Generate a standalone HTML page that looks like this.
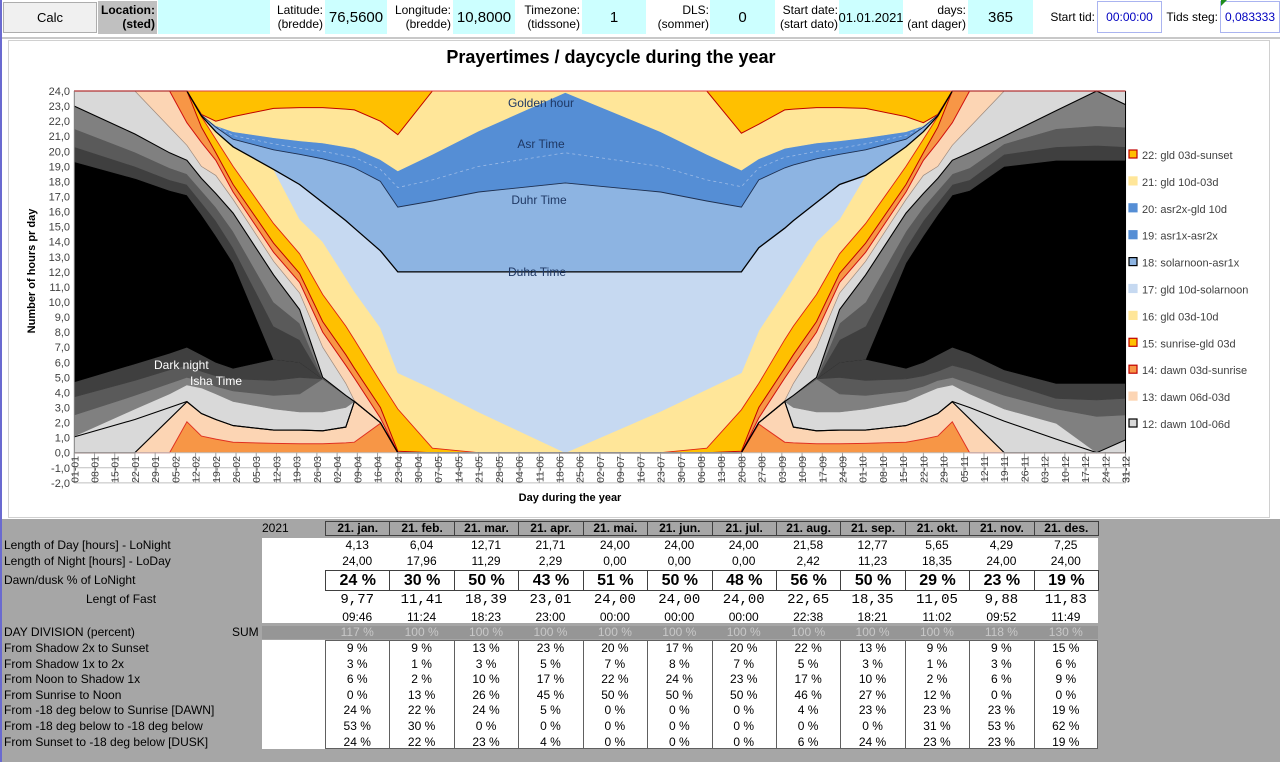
<!DOCTYPE html>
<html><head><meta charset="utf-8">
<style>
body{margin:0;width:1280px;height:762px;position:relative;overflow:hidden;background:#fff;font-family:"Liberation Sans",Arial,sans-serif;font-size:12px;color:#000}
.a{position:absolute}
.lbl{position:absolute;text-align:right;line-height:14px;font-size:12px}
.cy{position:absolute;background:#ccffff;font-size:15px;display:flex;align-items:center;justify-content:center}
.num{position:absolute;text-align:center;font-size:12px}
.hd{position:absolute;top:521px;height:15px;border:1px solid #404040;box-sizing:border-box;text-align:center;font-weight:bold;font-size:12px;line-height:14px}
.rl{position:absolute;left:4px;font-size:12px;line-height:14px}
</style></head><body>
<div class="a" style="left:0;top:0;width:2px;height:762px;background:#6a6ad0"></div>
<!-- header -->
<div class="a" style="left:3px;top:2px;width:94px;height:31px;background:#f0f0f0;border:1px solid #adadad;box-sizing:border-box;text-align:center;line-height:29px;font-size:13px">Calc</div>
<div class="lbl" style="left:98px;top:1px;width:59px;height:33px;background:#c0c0c0;font-weight:bold;padding-top:2px;box-sizing:border-box;padding-right:2px">Location:<br>(sted)</div>
<div class="cy" style="left:158px;top:0;width:112px;height:34px"></div>
<div class="lbl" style="left:268px;top:3px;width:55px">Latitude:<br>(bredde)</div>
<div class="cy" style="left:325px;top:0;width:62px;height:34px">76,5600</div>
<div class="lbl" style="left:386px;top:3px;width:65px">Longitude:<br>(bredde)</div>
<div class="cy" style="left:453px;top:0;width:62px;height:34px">10,8000</div>
<div class="lbl" style="left:515px;top:3px;width:65px">Timezone:<br>(tidssone)</div>
<div class="cy" style="left:582px;top:0;width:64px;height:34px">1</div>
<div class="lbl" style="left:648px;top:3px;width:61px">DLS:<br>(sommer)</div>
<div class="cy" style="left:710px;top:0;width:65px;height:34px">0</div>
<div class="lbl" style="left:776px;top:3px;width:62px">Start date:<br>(start dato)</div>
<div class="cy" style="left:839px;top:0;width:64px;height:34px;font-size:13px">01.01.2021</div>
<div class="lbl" style="left:903px;top:3px;width:63px">days:<br>(ant dager)</div>
<div class="cy" style="left:968px;top:0;width:65px;height:34px">365</div>
<div class="lbl" style="left:1040px;top:10px;width:55px">Start tid:</div>
<div class="a" style="left:1097px;top:1px;width:65px;height:32px;border:1px solid #aab4f0;box-sizing:border-box;color:#0000c0;text-align:center;line-height:30px;font-size:12px">00:00:00</div>
<div class="lbl" style="left:1160px;top:10px;width:58px">Tids steg:</div>
<div class="a" style="left:1220px;top:1px;width:60px;height:32px;border:1px solid #aab4f0;box-sizing:border-box;color:#0000c0;text-align:center;line-height:30px;font-size:12px">0,083333</div>
<div class="a" style="left:1221px;top:0;width:0;height:0;border-top:6px solid #1e8c1e;border-right:6px solid transparent"></div>
<div class="a" style="left:2px;top:37px;width:1278px;height:2px;background:#c8c8c8"></div>
<!-- chart frame -->
<div class="a" style="left:8px;top:40px;width:1262px;height:478px;border:1px solid #d0d0d0;box-sizing:border-box;background:#fff"></div>
<div class="a" style="left:2px;top:519px;width:1278px;height:243px;background:#a6a6a6"></div>
<svg id="chart" class="a" style="left:0;top:0" width="1280" height="520"></svg>
<div id="table"></div>
<script>
const days=[0,21,33,39,44,49,55,69,78,86,94,97,106,112,124,140,170,203,219,231,237,246,249,257,265,274,288,294,299,304,310,322,340,354,364];
const orLoTop=[0,0,0,2.05,1.1,0.9,0.7,0.62,0.6,0.6,0.65,0.7,1.95,0,0,0,0, 0,0,0,1.9,0.7,0.65,0.6,0.6,0.62,0.7,0.9,1.1,2.05,0,0,0,0,0];
const peLoTop=[0,0,2.25,3.38,2.6,2.2,1.8,1.5,1.5,1.45,1.7,3.4,2.0,0,0,0,0, 0,0,0,2.0,3.4,1.7,1.45,1.5,1.5,1.8,2.2,2.6,3.38,2.25,0,0,0,0];
const lgATop=[1.05,2.2,3.0,3.4,2.6,2.2,1.8,1.5,1.5,1.45,1.7,3.4,2.0,0,0,0,0, 0,0,0,2.0,3.4,1.7,1.45,1.5,1.5,1.8,2.2,2.6,3.4,3.0,2.1,0.9,0,0.85];
const lgBTop=[1.1,2.9,3.9,4.5,4.3,3.9,3.4,2.9,2.7,2.7,3.0,3.4,2.0,0,0,0,0, 0,0,0,2.0,3.4,3.0,2.7,2.7,2.9,3.4,3.9,4.3,4.5,3.9,2.9,1.95,0,0.9];
const grayLoTop=[2.5,3.8,4.6,5.0,4.8,4.4,4.1,3.8,3.9,4.9,3.8,3.4,2.0,0,0,0,0, 0,0,0,2.0,3.4,3.8,4.9,3.9,3.8,4.1,4.4,4.8,5.0,4.6,3.8,2.9,2.4,2.5];
const dgLoTop=[3.7,4.8,5.5,5.8,5.4,5.1,4.9,4.8,5.0,4.9,3.8,3.4,2.0,0,0,0,0, 0,0,0,2.0,3.4,3.8,4.9,5.0,4.8,4.9,5.1,5.4,5.8,5.5,4.7,3.6,3.5,3.6];
const ddLoTop=[4.7,5.9,6.6,7.0,6.5,6.0,5.6,6.2,6.0,4.9,3.8,3.4,2.0,0,0,0,0, 0,0,0,2.0,3.4,3.8,4.9,6.0,6.2,5.6,6.0,6.5,7.0,6.6,5.5,4.6,4.6,4.6];
const blackTop=[19.3,18.2,17.4,17.1,15.8,14.4,12.6,6.2,6.0,4.9,3.8,3.4,2.0,0,0,0,0, 0,0,0,2.0,3.4,3.8,4.9,6.0,6.2,12.6,14.4,15.8,17.1,17.4,19.0,19.4,19.4,19.4];
const ddHiTop=[20.3,19.0,18.1,17.8,16.6,15.4,13.6,8.4,7.5,4.9,3.8,3.4,2.0,0,0,0,0, 0,0,0,2.0,3.4,3.8,4.9,7.5,8.4,13.6,15.4,16.6,17.8,18.1,19.8,20.3,20.4,20.3];
const dgHiTop=[21.5,19.95,18.9,18.5,17.4,16.3,14.7,10.0,8.6,4.95,3.8,3.4,2.0,0,0,0,0, 0,0,0,2.0,3.4,3.8,4.95,8.6,10.0,14.7,16.3,17.4,18.5,18.9,20.5,21.5,21.7,21.6];
const grayHiTop=[23.0,21.15,19.9,19.4,18.2,17.2,15.9,11.8,9.5,5.0,3.8,3.4,2.0,0,0,0,0, 0,0,0,2.0,3.4,3.8,5.0,9.5,11.8,15.9,17.2,18.2,19.4,19.9,21.0,22.7,24,23.1];
const lgHiTop=[24,24,21.6,20.4,19.0,18.4,16.8,12.7,10.6,7.0,4.6,3.45,2.0,0,0,0,0, 0,0,0,2.0,3.45,4.6,7.0,10.6,12.7,16.8,18.4,19.0,20.4,21.6,24,24,24,24];
const peHiTop=[24,24,24,21.9,20.6,19.4,17.3,13.3,11.3,8.0,5.8,4.95,2.3,0,0,0,0, 0,0,0,2.3,4.95,5.8,8.0,11.3,13.3,17.3,19.4,20.6,21.9,24,24,24,24,24];
const orHiTop=[24,24,24,24,21.6,19.9,17.8,13.9,11.9,8.7,6.5,5.6,3.0,0.1,0,0,0, 0,0,0.1,3.0,5.6,6.5,8.7,11.9,13.9,17.8,19.9,21.6,24,24,24,24,24,24];
const goldHiTop=[24,24,24,24,22.3,20.8,19.0,15.2,13.2,10.5,8.4,7.5,4.7,2.9,0.3,0,0, 0,0.3,2.85,4.6,7.5,8.4,10.5,13.2,15.2,19.0,20.8,22.3,24,24,24,24,24,24];
const lyATop=[24,24,24,24,22.35,21.3,20.3,18.8,15.5,14.0,11.6,10.7,8.3,5.3,4.25,2.7,0, 2.75,4.2,5.3,8.1,10.7,11.6,14.0,15.5,18.4,20.3,21.3,22.35,24,24,24,24,24,24];
const duhaTop=[24,24,24,24,22.35,21.3,20.3,18.8,17.8,16.6,15.4,14.9,13.4,12,12,12,12, 12,12,12,13.6,14.9,15.4,16.6,17.8,18.4,20.3,21.3,22.35,24,24,24,24,24,24];
const duhrTop=[24,24,24,24,22.4,21.6,20.8,20.1,19.8,19.5,19.1,18.9,18.0,16.3,16.7,17.3,17.9, 17.3,16.7,16.3,18.1,18.9,19.1,19.5,19.8,20.1,20.8,21.6,22.4,24,24,24,24,24,24];
const asr1Top=[24,24,24,24,22.4,21.65,21.05,20.5,20.2,20.0,19.7,19.6,18.8,17.6,18.1,19.0,19.9, 19.0,18.1,17.65,18.9,19.6,19.7,20.0,20.2,20.5,21.05,21.65,22.4,24,24,24,24,24,24];
const asr2Top=[24,24,24,24,22.4,21.7,21.3,20.9,20.7,20.55,20.3,20.2,19.45,18.7,19.8,21.35,23.9, 21.3,19.8,18.75,19.5,20.2,20.3,20.55,20.7,20.9,21.3,21.7,22.4,24,24,24,24,24,24];
const lyBTop=[24,24,24,24,22.45,22.0,22.3,22.85,22.9,22.9,22.8,22.75,22.0,21.1,24,24,24, 24,24,21.2,21.8,22.75,22.8,22.9,22.9,22.85,22.3,21.9,22.45,24,24,24,24,24,24];
const yTickValues=[24,23,22,21,20,19,18,17,16,15,14,13,12,11,10,9,8,7,6,5,4,3,2,1,0,-1,-2];
const legendLabels=["22: gld 03d-sunset","21: gld 10d-03d","20: asr2x-gld 10d","19: asr1x-asr2x","18: solarnoon-asr1x","17: gld 10d-solarnoon","16: gld 03d-10d","15: sunrise-gld 03d","14: dawn 03d-sunrise","13: dawn 06d-03d","12: dawn 10d-06d"];

const NS="http://www.w3.org/2000/svg";
const svg=document.getElementById('chart');
function X(d){return 74.3+d*2.888;}
function Y(h){return 452.7-h*15.07;}
function mk(tag,attrs){const e=document.createElementNS(NS,tag);for(const k in attrs)e.setAttribute(k,attrs[k]);svg.appendChild(e);return e;}
const zeroLine=days.map(()=>0);
const fullLine=days.map(()=>24);
const stack=[
 ['orange-lo-area',zeroLine,orLoTop,'#f79646'],
 ['peach-lo-area',orLoTop,peLoTop,'#fcd5b4'],
 ['lightgray-a-area',peLoTop,lgATop,'#d9d9d9'],
 ['lightgray-b-area',lgATop,lgBTop,'#d9d9d9'],
 ['gray-lo-area',lgBTop,grayLoTop,'#808080'],
 ['darkgray-lo-area',grayLoTop,dgLoTop,'#5a5a5a'],
 ['darkergray-lo-area',dgLoTop,ddLoTop,'#3f3f3f'],
 ['dark-night-area',ddLoTop,blackTop,'#000000'],
 ['darkergray-hi-area',blackTop,ddHiTop,'#3f3f3f'],
 ['darkgray-hi-area',ddHiTop,dgHiTop,'#5a5a5a'],
 ['gray-hi-area',dgHiTop,grayHiTop,'#808080'],
 ['lightgray-hi-area',grayHiTop,lgHiTop,'#d9d9d9'],
 ['peach-hi-area',lgHiTop,peHiTop,'#fcd5b4'],
 ['orange-hi-area',peHiTop,orHiTop,'#f79646'],
 ['gold-hi-area',orHiTop,goldHiTop,'#ffc000'],
 ['lightyellow-a-area',goldHiTop,lyATop,'#ffe699'],
 ['duha-area',lyATop,duhaTop,'#c6d9f1'],
 ['duhr-area',duhaTop,duhrTop,'#8db4e2'],
 ['asr1-area',duhrTop,asr1Top,'#558ed5'],
 ['asr2-area',asr1Top,asr2Top,'#558ed5'],
 ['lightyellow-b-area',asr2Top,lyBTop,'#ffe699'],
 ['golden-hour-area',lyBTop,fullLine,'#ffc000']
];
function pts(arr){return days.map((d,i)=>X(d).toFixed(1)+','+Y(arr[i]).toFixed(1));}
for(const s of stack){
  const p=pts(s[2]).concat(pts(s[1]).reverse()).join(' ');
  const poly=mk('polygon',{points:p,fill:s[3],stroke:s[3],'stroke-width':0.6});
  
  
}
const lines=[
 ['orange-lo-border',orLoTop,'#e03020',1,''],
 ['peach-hi-border',lgHiTop,'#9a8a80',0.7,''],
 ['orange-hi-border-low',peHiTop,'#d01010',1,''],
 ['orange-hi-border-high',orHiTop,'#c00000',1,''],
 ['gold-hi-border',goldHiTop,'#e02010',0.9,''],
 ['golden-hour-border',lyBTop,'#c00000',1,''],
 ['asr-divider',asr1Top,'#9dbbe6',0.8,'3,3'],
 ['duhr-border',duhrTop,'#1f3050',0.9,''],
 ['duha-border',duhaTop,'#000000',1.3,''],
 ['lightgray-a-bottom-border',peLoTop,'#000000',1.1,''],
 ['lightgray-a-top-border',lgATop,'#000000',1.1,''],
 ['lightgray-hi-border',grayHiTop,'#000000',1.1,'']
];
for(const l of lines){
  const pl=mk('polyline',{points:pts(l[1]).join(' '),fill:'none',stroke:l[2],'stroke-width':l[3]});
  if(l[4])pl.setAttribute('stroke-dasharray',l[4]);
  
  
}
// axes
const x0=X(0),x1=X(364);
for(const v of yTickValues){
  if(v<=0){const g=mk('line',{x1:x0,x2:x1,y1:Y(v),y2:Y(v),stroke:'#bfbfbf','stroke-width':1});
    }
  const t=mk('text',{x:70,y:Y(v)+4,'text-anchor':'end','font-size':11,fill:'#404040','font-family':'Liberation Sans, sans-serif'});
  t.textContent=v.toFixed(1).replace('.',',');
  
  
}
const ax=mk('line',{x1:x0,x2:x0,y1:Y(24),y2:Y(-2),stroke:'#808080','stroke-width':1});

const rb=mk('line',{x1:x1,x2:x1,y1:Y(24),y2:Y(0),stroke:'#000','stroke-width':1});

const tb=mk('line',{x1:x0,x2:x1,y1:Y(24),y2:Y(24),stroke:'#e04040','stroke-width':1});

const base=new Date(2021,0,1);
for(let d=0;d<=364;d+=7){
  const dd=(d===364)?364:d;
  const tk=mk('line',{x1:X(dd),x2:X(dd),y1:Y(0),y2:Y(-2),stroke:'#a0a0a0','stroke-width':1});
  
  const dt=new Date(base.getTime()+dd*86400000);
  const s=String(dt.getDate()).padStart(2,'0')+'-'+String(dt.getMonth()+1).padStart(2,'0');
  const t=mk('text',{x:0,y:0,'text-anchor':'end','font-size':10.5,fill:'#404040','font-family':'Liberation Sans, sans-serif',transform:'translate('+(X(dd)+4)+',456) rotate(-90)'});
  t.textContent=s;
  
  
  if(d===357){d=357;}
}
{const dd=364;const tk=mk('line',{x1:X(dd),x2:X(dd),y1:Y(0),y2:Y(-2),stroke:'#a0a0a0'});
 
 const t=mk('text',{x:0,y:0,'text-anchor':'end','font-size':10.5,fill:'#404040','font-family':'Liberation Sans, sans-serif',transform:'translate('+(X(dd)+4)+',456) rotate(-90)'});
 t.textContent='31-12';}
function txt(name,x,y,s,attrs){const t=mk('text',Object.assign({x:x,y:y,'font-family':'Liberation Sans, sans-serif'},attrs));t.textContent=s;return t;}
txt('chart-title',611,63,'Prayertimes / daycycle during the year',{'text-anchor':'middle','font-size':18,'font-weight':'bold'});
txt('x-axis-title',570,501,'Day during the year',{'text-anchor':'middle','font-size':11,'font-weight':'bold'});
txt('y-axis-title',0,0,'Number of hours pr day',{'text-anchor':'middle','font-size':11,'font-weight':'bold',transform:'translate(35,271) rotate(-90)'});
txt('golden-hour-label',541,107,'Golden hour',{'text-anchor':'middle','font-size':12,fill:'#1f3864'});
txt('asr-time-label',541,148,'Asr Time',{'text-anchor':'middle','font-size':12,fill:'#1f3864'});
txt('duhr-time-label',539,204,'Duhr Time',{'text-anchor':'middle','font-size':12,fill:'#1f3864'});
txt('duha-time-label',537,276,'Duha Time',{'text-anchor':'middle','font-size':12,fill:'#1f3864'});
txt('dark-night-label',154,369,'Dark night',{'font-size':12,fill:'#ffffff'});
txt('isha-time-label',190,385,'Isha Time',{'font-size':12,fill:'#ffffff'});
const legFill=['#ffc000','#ffe699','#558ed5','#558ed5','#8db4e2','#c6d9f1','#ffe699','#ffc000','#f79646','#fcd5b4','#d9d9d9'];
const legStroke=['#c00000','#ffe699','#558ed5','#558ed5','#000','#c6d9f1','#ffe699','#c00000','#c00000','#fcd5b4','#000'];
legendLabels.forEach((lab,i)=>{
  const y=155+i*26.9;
  const r=mk('rect',{x:1129,y:y-5,width:8,height:8,fill:legFill[i],stroke:legStroke[i],'stroke-width':1.2});
  
  
  txt('legend-entry',1142,y+4,lab,{'font-size':11,fill:'#404040'});
});

// table
const months=["21. jan.","21. feb.","21. mar.","21. apr.","21. mai.","21. jun.","21. jul.","21. aug.","21. sep.","21. okt.","21. nov.","21. des."];
const dayLen=["4,13","6,04","12,71","21,71","24,00","24,00","24,00","21,58","12,77","5,65","4,29","7,25"];
const nightLen=["24,00","17,96","11,29","2,29","0,00","0,00","0,00","2,42","11,23","18,35","24,00","24,00"];
const dawnPct=["24 %","30 %","50 %","43 %","51 %","50 %","48 %","56 %","50 %","29 %","23 %","19 %"];
const fastLen=["9,77","11,41","18,39","23,01","24,00","24,00","24,00","22,65","18,35","11,05","9,88","11,83"];
const fastTime=["09:46","11:24","18:23","23:00","00:00","00:00","00:00","22:38","18:21","11:02","09:52","11:49"];
const sumPct=["117 %","100 %","100 %","100 %","100 %","100 %","100 %","100 %","100 %","100 %","118 %","130 %"];
const divRows=[
 ["From Shadow 2x to Sunset",[9,9,13,23,20,17,20,22,13,9,9,15]],
 ["From Shadow 1x to 2x",[3,1,3,5,7,8,7,5,3,1,3,6]],
 ["From Noon to Shadow 1x",[6,2,10,17,22,24,23,17,10,2,6,9]],
 ["From Sunrise to Noon",[0,13,26,45,50,50,50,46,27,12,0,0]],
 ["From -18 deg below to Sunrise [DAWN]",[24,22,24,5,0,0,0,4,23,23,23,19]],
 ["From -18 deg below to -18 deg below",[53,30,0,0,0,0,0,0,0,31,53,62]],
 ["From Sunset to -18 deg below [DUSK]",[24,22,23,4,0,0,0,6,24,23,23,19]]
];
const T=document.getElementById('table');
function div(name,style,html,inter){const e=document.createElement('div');e.className='a';e.setAttribute('style',style);e.innerHTML=html||'';
  
  
  T.appendChild(e);return e;}
const CX=325,CW=64.42;
div('top-values-block','left:262px;top:538px;width:836px;height:85px;background:#fff');
div('division-values-block','left:262px;top:640px;width:836px;height:109px;background:#fff');
div('division-values-frame','left:325px;top:640px;width:773px;height:109px;border:1px solid #606060;box-sizing:border-box');
div('sum-band','left:262px;top:626px;width:836px;height:13px;background:#969696');
div('year-label','left:262px;top:521px;font-size:12px','2021');
div('sum-label','left:232px;top:625px;font-size:12px','SUM');
const rl=[["length-of-day-label",538,"Length of Day [hours] - LoNight"],["length-of-night-label",554,"Length of Night [hours] - LoDay"],["dawn-dusk-label",573,"Dawn/dusk % of LoNight"],["day-division-label",625,"DAY DIVISION (percent)"]];
for(const r of rl){const e=div(r[0],'left:4px;top:'+r[1]+'px;font-size:12px',r[2]);}
div('fast-length-label','left:86px;top:592px;font-size:12px','Lengt of Fast');
divRows.forEach((r,i)=>{div('division-row-label','left:4px;top:'+(641+i*15.6)+'px;font-size:12px',r[0]);});
months.forEach((m,i)=>{
  const x=CX+i*CW;
  div('month-header','left:'+x+'px;top:521px;width:'+(CW+1)+'px;height:15px;border:1px solid #404040;box-sizing:border-box;text-align:center;font-weight:bold;font-size:12px;line-height:13px',m);
  div('day-length-value','left:'+x+'px;top:538px;width:'+CW+'px;text-align:center;font-size:12px',dayLen[i]);
  div('night-length-value','left:'+x+'px;top:554px;width:'+CW+'px;text-align:center;font-size:12px',nightLen[i]);
  div('dawn-pct-cell','left:'+x+'px;top:570px;width:'+(CW+1)+'px;height:21px;border:1px solid #404040;box-sizing:border-box;text-align:center;font-weight:bold;font-size:16px;line-height:19px;background:#fff',dawnPct[i]);
  div('fast-length-value','left:'+x+'px;top:592px;width:'+CW+'px;text-align:center;font-size:14px;font-family:Liberation Mono,monospace',fastLen[i]);
  div('fast-time-value','left:'+x+'px;top:610px;width:'+CW+'px;text-align:center;font-size:12px',fastTime[i]);
  div('sum-value','left:'+x+'px;top:625px;width:'+CW+'px;text-align:center;font-size:12px;color:#c8c8c8',sumPct[i]);
  if(i>0)div('column-divider','left:'+x+'px;top:640px;width:1px;height:109px;background:#606060');
  divRows.forEach((r,j)=>{div('division-value','left:'+x+'px;top:'+(641+j*15.6)+'px;width:'+CW+'px;text-align:center;font-size:12px',r[1][i]+' %');});
});
</script>
</body></html>
